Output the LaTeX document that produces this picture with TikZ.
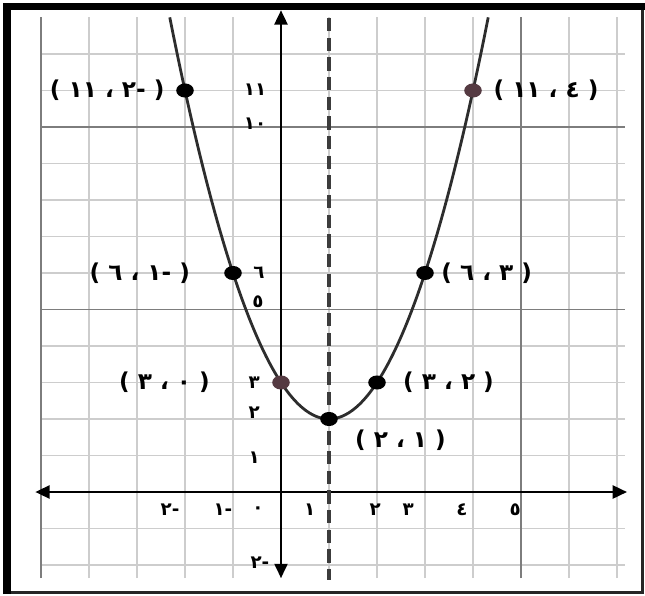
\documentclass[tikz,border=0pt]{standalone}
\usepackage{fontspec}
\usepackage{tikz}
\usetikzlibrary{arrows.meta,positioning,shapes.geometric}
\newfontfamily\arabicfont{DejaVu Sans}
\definecolor{gridlt}{RGB}{205,205,205}
\definecolor{griddk}{RGB}{125,125,125}
\definecolor{crvgray}{RGB}{45,45,45}
\definecolor{dashgray}{RGB}{60,60,60}
\definecolor{dotbr}{RGB}{85,58,66}
\tikzset{
  gmin/.style={gridlt, line width=0.9pt},
  gmaj/.style={griddk, line width=0.9pt},
  axs/.style={line width=2.1pt, {Triangle[length=3.6mm, width=3.2mm]}-{Triangle[length=3.6mm, width=3.2mm]}},
  sym/.style={dashgray, line width=3.4pt, dash pattern=on 9.5pt off 4.5pt},
  crv/.style={crvgray, line width=2pt},
  gnode/.style={ellipse, fill=black, inner sep=0pt, minimum width=12.5pt, minimum height=10pt},
  plab/.style={font=\arabicfont\bfseries\fontsize{16.5}{16.5}\selectfont, inner sep=0pt},
  tlab/.style={font=\arabicfont\bfseries\fontsize{13}{13}\selectfont, inner sep=0pt},
}

\begin{document}
\begin{tikzpicture}[x=1.2cm, y=0.9125cm]
  \useasboundingbox (-5.854,-2.822) rectangle (7.583,13.479);
  \foreach \gy in {-2,...,12} \draw[gmin] (-5,\gy) -- (7.17,\gy);
  \foreach \gx in {-4,...,7} \draw[gmin] (\gx,-2.36) -- (\gx,13);
  \draw[gmaj] (-5,5) -- (7.17,5);
  \draw[gmaj] (-5,10) -- (7.17,10);
  \draw[gmaj] (-5,-2.36) -- (-5,13);
  \draw[gmaj] (5,-2.36) -- (5,13);
  \draw[line width=2pt, black!85] (-5.708,-2.753) rectangle (7.531,13.288);
  \draw[line width=5pt] (-5.708,-2.8) -- (-5.708,13.288) -- (7.58,13.288);
  \coordinate (xl) at (-5.12,0);
  \coordinate (xr) at (7.21,0);
  \coordinate (yb) at (0,-2.36);
  \coordinate (yt) at (0,13.2);
  \coordinate (st) at (1,12.99);
  \coordinate (sb) at (1,-2.41);
  \draw[axs] (xl) -- (xr);
  \draw[axs] (yb) -- (yt);
  \draw[sym] (st) -- (sb);
  \draw[crv] plot[domain=-2.317:4.317, samples=90, smooth] (\x,{\x*\x-2*\x+3});
  \node[gnode] (pA) at (-2,11) {};
  \node[gnode, fill=dotbr] (pB) at (4,11) {};
  \node[gnode] (pC) at (-1,6) {};
  \node[gnode] (pD) at (3,6) {};
  \node[gnode, fill=dotbr] (pE) at (0,3) {};
  \node[gnode] (pF) at (2,3) {};
  \node[gnode] (pG) at (1,2) {};
  \node[plab, left=8pt of pA] (lA) {( ١١ ، ٢- )};
  \node[plab, right=8pt of pB] (lB) {( ١١ ، ٤ )};
  \node[plab, left=24pt of pC] (lC) {( ٦ ، ١- )};
  \node[plab, right=5pt of pD] (lD) {( ٦ ، ٣ )};
  \node[plab, left=44pt of pE] (lE) {( ٣ ، ٠ )};
  \node[plab, right=12pt of pF] (lF) {( ٣ ، ٢ )};
  \node[plab, anchor=north west] (lG) at (1.54,1.7) {( ٢ ، ١ )};
  \node[tlab] (y11) at (-0.54,11.01) {١١};
  \node[tlab] (y10) at (-0.54,10.1) {١٠};
  \node[tlab] (y6) at (-0.46,6) {٦};
  \node[tlab] (y5) at (-0.48,5.2) {٥};
  \node[tlab] (y3) at (-0.56,3) {٣};
  \node[tlab] (y2) at (-0.56,2.16) {٢};
  \node[tlab] (y1) at (-0.56,0.93) {١};
  \node[tlab] (ym2) at (-0.44,-1.95) {٢-};
  \node[tlab] (xm2) at (-2.31,-0.49) {٢-};
  \node[tlab] (xm1) at (-1.21,-0.49) {١-};
  \node[tlab] (x0) at (-0.48,-0.49) {٠};
  \node[tlab] (x1) at (0.6,-0.49) {١};
  \node[tlab] (x2) at (1.96,-0.49) {٢};
  \node[tlab] (x3) at (2.65,-0.49) {٣};
  \node[tlab] (x4) at (3.77,-0.49) {٤};
  \node[tlab] (x5) at (4.88,-0.49) {٥};
\end{tikzpicture}
\end{document}
